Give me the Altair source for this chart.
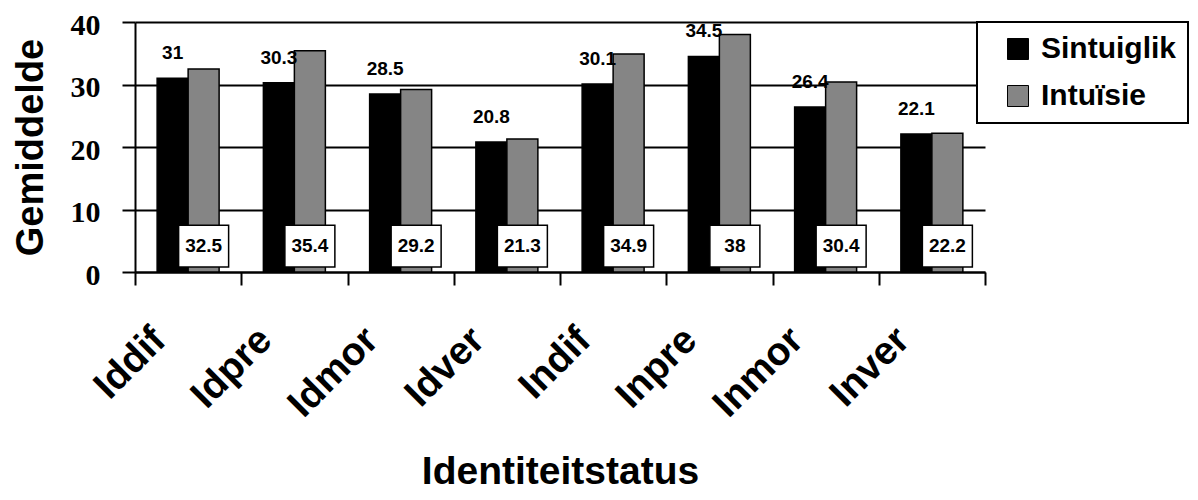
import altair as alt
import pandas as pd

categories = ["Iddif", "Idpre", "Idmor", "Idver", "Indif", "Inpre", "Inmor", "Inver"]
sintuiglik = [31, 30.3, 28.5, 20.8, 30.1, 34.5, 26.4, 22.1]
intuisie = [32.5, 35.4, 29.2, 21.3, 34.9, 38, 30.4, 22.2]
series_names = ["Sintuiglik", "Intuïsie"]
series_colors = ["#000000", "#858585"]
y_ticks = [0, 10, 20, 30, 40]

rows = []
for c, a, b in zip(categories, sintuiglik, intuisie):
    rows.append({"cat": c, "series": series_names[0], "value": a, "label": f"{a:g}"})
    rows.append({"cat": c, "series": series_names[1], "value": b, "label": f"{b:g}"})
df = pd.DataFrame(rows)

SANS = "Liberation Sans"
SERIF = "Liberation Serif"

x_enc = alt.X(
    "cat:N", sort=categories,
    scale=alt.Scale(paddingInner=0, paddingOuter=0),
    axis=alt.Axis(
        title="Identiteitstatus", labelAngle=-45, labelAlign="right",
        labelBaseline="alphabetic", labelFont=SANS, labelFontWeight="bold",
        labelFontSize=39, labelColor="black", labelOffset=-21, labelPadding=57,
        labelOverlap=False, tickBand="extent", tickSize=13, tickWidth=2,
        tickColor="black", domainColor="black", domainWidth=2, grid=False,
        titleFont=SANS, titleFontSize=39, titleFontWeight="bold",
        titleColor="black", titleBaseline="alphabetic", titleY=211,
    ),
)
xo_enc = alt.XOffset(
    "series:N", sort=series_names,
    scale=alt.Scale(domain=series_names, paddingInner=0, paddingOuter=0.714),
)
y_axis = alt.Axis(
    values=y_ticks, title="Gemiddelde", grid=True, gridColor="black",
    gridWidth=2, gridOpacity=1, tickSize=13, tickWidth=2, tickColor="black",
    domainColor="black", domainWidth=2, labelFont=SERIF, labelFontSize=30,
    labelFontWeight="bold", labelPadding=22, labelColor="black", labelOffset=3,
    titleFont=SANS, titleFontSize=38, titleFontWeight="bold", titleColor="black",
    titleAngle=-90, titleX=-93, titleY=125, titleAlign="center",
    titleBaseline="alphabetic",
)
y_scale = alt.Scale(domain=[0, 40], nice=False)

bars = alt.Chart().mark_bar(stroke="black", strokeWidth=1.5).encode(
    x=x_enc, xOffset=xo_enc,
    y=alt.Y("value:Q", scale=y_scale, axis=y_axis, stack=None),
    color=alt.Color(
        "series:N", sort=series_names,
        scale=alt.Scale(domain=series_names, range=series_colors),
        legend=alt.Legend(
            title=None, orient="none", legendX=842, legendY=0,
            direction="vertical", symbolType="square", symbolSize=441,
            symbolStrokeColor="black", symbolStrokeWidth=1, symbolOffset=14,
            labelOffset=8, labelFont=SANS, labelFontSize=30,
            labelFontWeight="bold", labelColor="black", padding=12,
            rowPadding=17, fillColor="white", strokeColor="black",
            symbolOpacity=1,
        ),
    ),
)

top_text = alt.Chart().transform_filter(
    alt.datum.series == series_names[0]
).mark_text(
    font=SANS, fontSize=19, fontWeight="bold", baseline="alphabetic",
    dy=-19, color="black",
).encode(
    x=x_enc, xOffset=xo_enc,
    y=alt.Y("value:Q", scale=y_scale, axis=y_axis, stack=None),
    text="label:N",
)

boxes = alt.Chart().transform_filter(
    alt.datum.series == series_names[1]
).mark_bar(width=50, fill="white", stroke="black", strokeWidth=1.5).encode(
    x=x_enc, xOffset=xo_enc,
    y=alt.datum(7.5), y2=alt.datum(0.8),
)

box_text = alt.Chart().transform_filter(
    alt.datum.series == series_names[1]
).mark_text(
    font=SANS, fontSize=19, fontWeight="bold", baseline="middle", color="black",
).encode(
    x=x_enc, xOffset=xo_enc,
    y=alt.datum(4.15),
    text="label:N",
)

chart = alt.layer(bars, top_text, boxes, box_text, data=df).properties(
    width=850, height=250,
    autosize=alt.AutoSizeParams(type="none"),
    padding={"left": 127, "top": 14, "right": 205, "bottom": 220},
).configure_view(stroke=None).configure_legend(strokeWidth=2)

chart.save("out.html", embed_options={"renderer": "svg", "actions": False})
